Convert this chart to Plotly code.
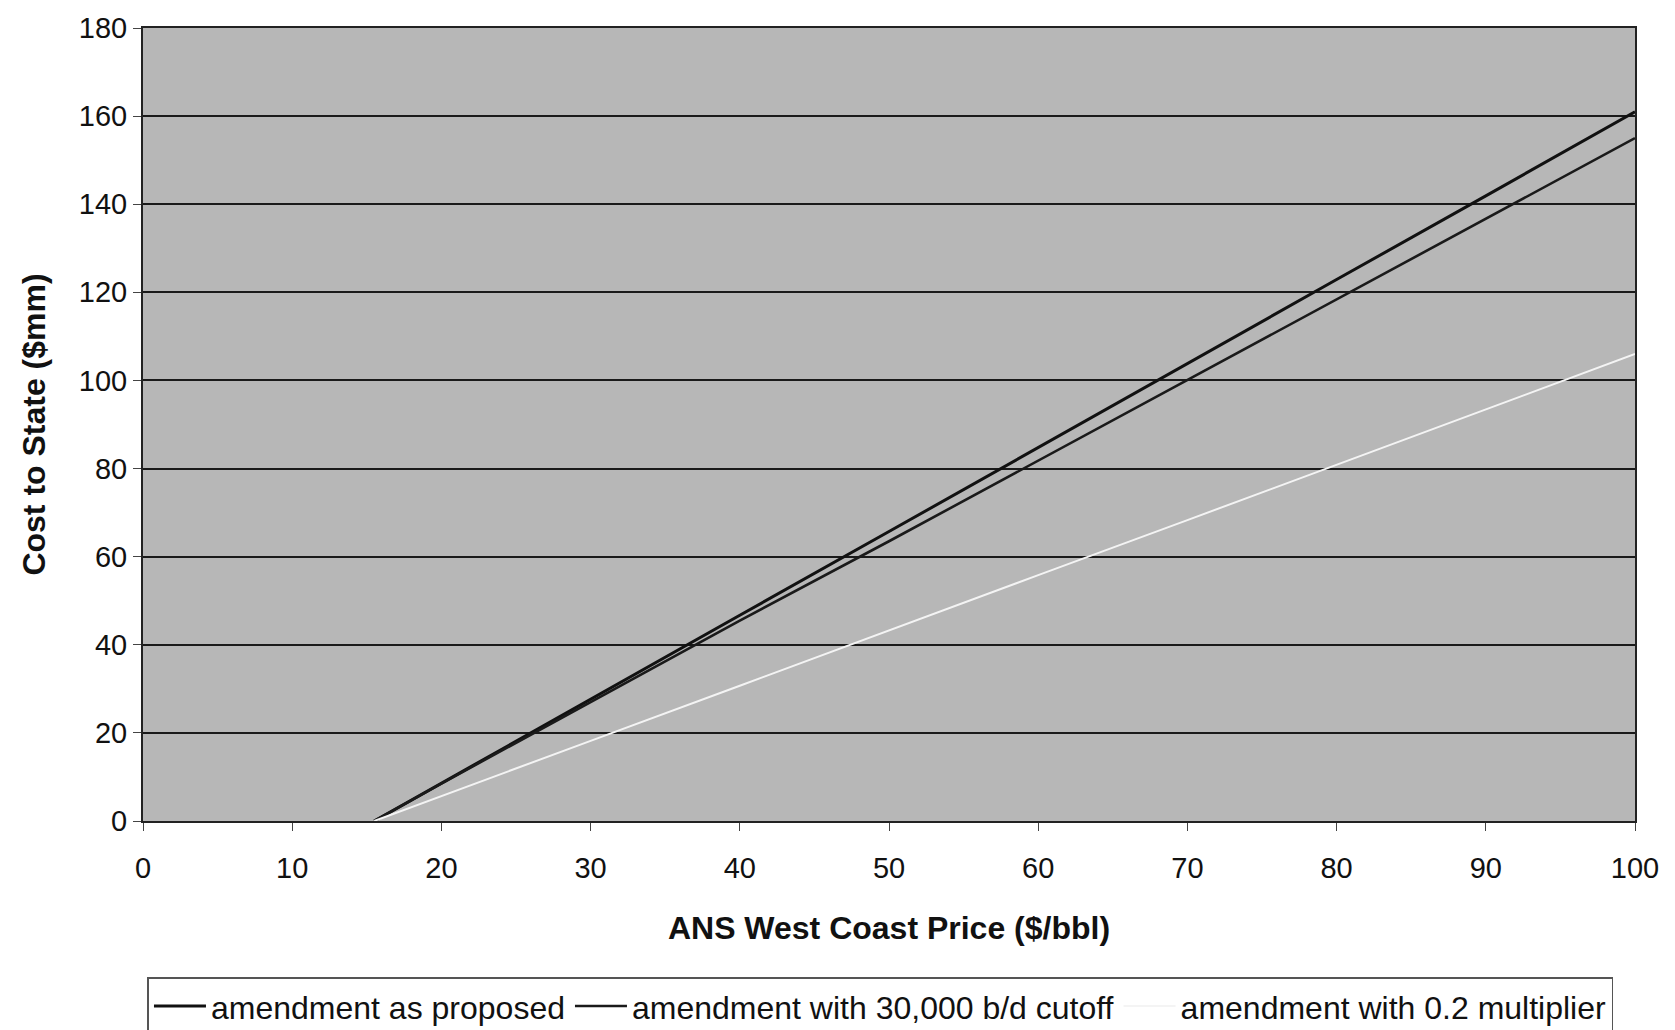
import plotly.graph_objects as go

price = [15.5, 20, 30, 40, 50, 60, 70, 80, 90, 100]
as_proposed = [0, 8.6, 27.6, 46.7, 65.7, 84.8, 103.8, 122.9, 141.9, 161]
cutoff_30k = [0, 8.5, 27.0, 45.5, 63.5, 81.8, 100.0, 118.3, 136.6, 155]
mult_02 = [0, 5.6, 18.2, 30.7, 43.3, 55.8, 68.3, 80.9, 93.4, 106]

names = ["amendment as proposed", "amendment with 30,000 b/d cutoff", "amendment with 0.2 multiplier"]
x_ticks = list(range(0, 101, 10))
y_ticks = list(range(0, 181, 20))

FONT = "Liberation Sans, Arial, sans-serif"

fig = go.Figure()
fig.add_trace(go.Scatter(x=price, y=as_proposed, mode="lines", name=names[0],
                         line=dict(color="#111111", width=3)))
fig.add_trace(go.Scatter(x=price, y=cutoff_30k, mode="lines", name=names[1],
                         line=dict(color="#1a1a1a", width=2.6)))
fig.add_trace(go.Scatter(x=price, y=mult_02, mode="lines", name=names[2],
                         line=dict(color="#f4f4f4", width=2)))

fig.update_layout(
    width=1675, height=1030,
    margin=dict(l=135, r=48, t=20, b=217, autoexpand=False),
    paper_bgcolor="white",
    plot_bgcolor="#b7b7b7",
    font=dict(family=FONT, size=29, color="#111111"),
    showlegend=True,
    legend=dict(orientation="h", x=0.003, xanchor="left", y=-0.197, yanchor="top",
                bgcolor="white", bordercolor="#555555", borderwidth=1.5,
                font=dict(size=32, color="#111111"), itemwidth=52,
                entrywidth=0, traceorder="normal"),
    xaxis=dict(range=[0, 100], tickvals=x_ticks, ticks="outside", ticklen=8,
               tickcolor="#444444", showgrid=False, zeroline=False, automargin=False,
               showline=True, linecolor="#222222", linewidth=2, mirror=True,
               tickfont=dict(size=29), ticklabelstandoff=12, ticklabeloverflow="allow",
               title=dict(text="<b>ANS West Coast Price ($/bbl)</b>", font=dict(size=32), standoff=34)),
    yaxis=dict(range=[0, 180], tickvals=y_ticks, ticks="outside", ticklen=8,
               tickcolor="#444444", showgrid=True, gridcolor="#1a1a1a", gridwidth=1.5,
               zeroline=False, showline=True, linecolor="#222222", linewidth=2, mirror=True,
               automargin=False, tickfont=dict(size=29), ticklabeloverflow="allow",
               title=dict(text="<b>Cost to State ($mm)</b>", font=dict(size=32), standoff=24)),
)

fig.write_html("out.html")
